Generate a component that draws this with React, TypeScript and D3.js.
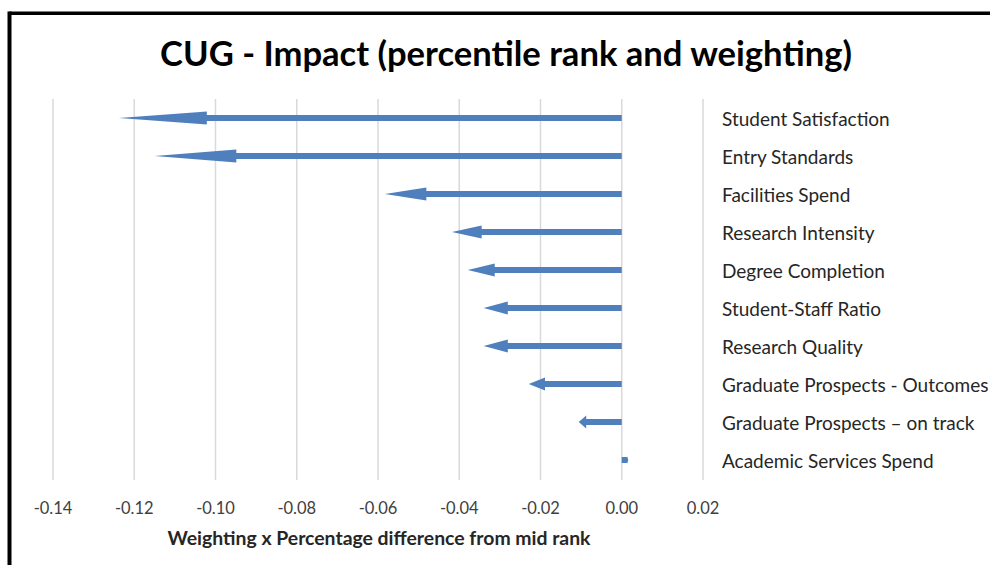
import React from "react";
import * as d3 from "d3";

const categories = [
  "Student Satisfaction",
  "Entry Standards",
  "Facilities Spend",
  "Research Intensity",
  "Degree Completion",
  "Student-Staff Ratio",
  "Research Quality",
  "Graduate Prospects - Outcomes",
  "Graduate Prospects – on track",
  "Academic Services Spend",
];
const impacts = [-0.1238, -0.115, -0.0583, -0.0418, -0.0379, -0.034, -0.034, -0.0229, -0.0106, 0.0016];
const tickValues = [-0.14, -0.12, -0.1, -0.08, -0.06, -0.04, -0.02, 0, 0.02];

const W = 990;
const H = 565;
const FONT = "Lato, 'Open Sans', sans-serif";
const BLUE = "#4f80bd";

function arrowPath(x0: number, x1: number, cy: number): string {
  const len = Math.abs(x1 - x0);
  const dir = x1 < x0 ? -1 : 1;
  const headLen = Math.max(len * 0.175, 1);
  const headH = Math.min(13, 6 + len * 0.3) / 2;
  const shaft = 3;
  const xb = x1 - dir * headLen;
  return [
    `M${x0},${cy - shaft}`,
    `L${xb},${cy - shaft}`,
    `L${xb},${cy - headH}`,
    `L${x1},${cy}`,
    `L${xb},${cy + headH}`,
    `L${xb},${cy + shaft}`,
    `L${x0},${cy + shaft}`,
    "Z",
  ].join(" ");
}

export default function App() {
  const x = d3.scaleLinear().domain([-0.14, 0.02]).range([53, 703]);
  const y = d3.scaleBand<string>().domain(categories).range([99, 479]);
  const fmt = (v: number) => d3.format(".2f")(v).replace("−", "-");

  return (
    <svg
      width={W}
      height={H}
      style={{ position: "absolute", left: 0, top: 0, background: "#fff" }}
    >
      <rect x={0} y={0} width={W} height={H} fill="#fff" />
      {/* frame */}
      <line x1={9.5} y1={13.3} x2={W + 5} y2={13.3} stroke="#000" strokeWidth={3.6} />
      <line x1={9.5} y1={11.5} x2={9.5} y2={H + 5} stroke="#000" strokeWidth={4} />

      <text
        x={506}
        y={66}
        textAnchor="middle"
        fontFamily={FONT}
        fontWeight="bold"
        fontSize={34.6}
        fill="#000"
      >
        CUG - Impact (percentile rank and weighting)
      </text>

      {/* gridlines */}
      {tickValues.map((t) => (
        <line
          key={`g${t}`}
          x1={x(t)}
          x2={x(t)}
          y1={99}
          y2={480}
          stroke="#d9d9d9"
          strokeWidth={1.5}
        />
      ))}

      {/* tick labels */}
      {tickValues.map((t) => (
        <text
          key={`t${t}`}
          x={x(t)}
          y={514}
          textAnchor="middle"
          fontFamily={FONT}
          fontSize={16.5}
          fill="#404040"
        >
          {fmt(t)}
        </text>
      ))}

      {/* arrows */}
      {categories.map((c, i) => {
        const cy = (y(c) as number) + y.bandwidth() / 2;
        return (
          <path key={`a${c}`} d={arrowPath(x(0), x(impacts[i]), cy)} fill={BLUE} />
        );
      })}

      {/* category labels */}
      {categories.map((c) => (
        <text
          key={`l${c}`}
          x={722}
          y={(y(c) as number) + y.bandwidth() / 2}
          dy="0.4em"
          fontFamily={FONT}
          fontSize={19}
          fill="#262626"
        >
          {c}
        </text>
      ))}

      <text
        x={379}
        y={545}
        textAnchor="middle"
        fontFamily={FONT}
        fontWeight="bold"
        fontSize={19.4}
        fill="#262626"
      >
        Weighting x Percentage difference from mid rank
      </text>
    </svg>
  );
}
